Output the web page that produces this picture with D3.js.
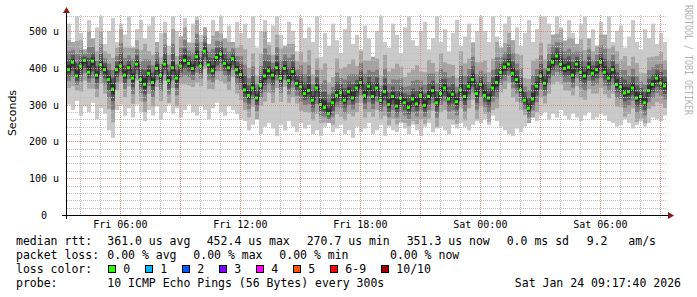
<!DOCTYPE html>
<html>
<head>
<meta charset="utf-8">
<script src="https://cdn.jsdelivr.net/npm/d3@7/dist/d3.min.js"></script>
<style>
body { margin: 0; background: #fff; }
text { white-space: pre; }
</style>
</head>
<body>
<script>
var width = 697;
var height = 297;

// time window of the graph (30 h), one sample every 12 minutes
var startTime = new Date(2026, 0, 23, 3, 20);
var endTime = new Date(2026, 0, 24, 9, 20);
var stepMinutes = 12;

// median rtt in microseconds
var median = [
  395, 415, 378, 405, 420, 388, 418, 380, 408, 395,
  368, 342, 395, 405, 380, 400, 372, 410, 368, 355,
  385, 360, 398, 380, 410, 365, 400, 372, 405, 420,
  412, 398, 430, 405, 445, 408, 392, 428, 438, 412,
  400, 425, 395, 382, 340, 325, 345, 318, 352, 378,
  392, 380, 400, 372, 398, 365, 390, 358, 348, 330,
  338, 312, 345, 300, 292, 275, 305, 325, 332, 312,
  335, 318, 345, 360, 325, 350, 322, 345, 312, 335,
  300, 322, 296, 318, 305, 292, 315, 302, 325, 298,
  322, 338, 305, 330, 345, 315, 328, 308, 340, 322,
  350, 368, 330, 355, 325, 318, 345, 360, 388, 402,
  410, 385, 368, 340, 312, 290, 315, 350, 378, 358,
  395, 415, 432, 410, 398, 402, 380, 410, 388, 378,
  402, 385, 395, 415, 388, 372, 395, 355, 348, 332,
  335, 345, 318, 322, 305, 338, 355, 372, 358, 351
];

// slowest ping of each sample (outer smoke top)
var maxPing = [
  520, 470, 540, 495, 450, 530, 480, 510, 540, 465,
  500, 535, 470, 520, 490, 540, 455, 505, 530, 480,
  515, 540, 470, 495, 525, 460, 540, 500, 485, 535,
  470, 520, 540, 490, 510, 465, 530, 500, 540, 480,
  515, 470, 525, 495, 520, 480, 540, 455, 500, 530,
  470, 515, 540, 490, 460, 525, 500, 445, 535, 480,
  510, 470, 540, 430, 495, 460, 520, 475, 440, 505,
  540, 465, 490, 450, 515, 480, 430, 500, 540, 470,
  455, 520, 490, 440, 510, 540, 475, 460, 500, 525,
  450, 480, 540, 470, 505, 445, 495, 530, 460, 485,
  520, 470, 500, 540, 500, 470, 540, 485, 455, 520,
  540, 475, 510, 460, 495, 530, 470, 505, 540, 540,
  520, 490, 540, 510, 475, 530, 495, 465, 520, 540,
  480, 505, 460, 525, 490, 540, 470, 500, 515, 455,
  485, 530, 470, 450, 505, 480, 520, 465, 495, 470
];

// fastest ping of each sample (outer smoke bottom)
var minPing = [
  300, 285, 310, 270, 295, 280, 305, 260, 290, 275,
  230, 210, 285, 300, 270, 290, 265, 300, 280, 255,
  285, 270, 295, 260, 280, 300, 275, 290, 265, 285,
  300, 280, 270, 295, 285, 260, 290, 305, 280, 270,
  295, 285, 275, 260, 255, 230, 245, 260, 220, 240,
  250, 235, 215, 245, 230, 255, 240, 225, 250, 235,
  245, 220, 230, 215, 240, 250, 225, 235, 245, 220,
  230, 210, 240, 225, 235, 250, 220, 230, 245, 215,
  240, 230, 225, 250, 235, 220, 245, 230, 215, 240,
  250, 225, 235, 240, 230, 220, 245, 235, 250, 240,
  230, 245, 255, 250, 260, 245, 270, 255, 240, 230,
  220, 215, 235, 225, 240, 250, 265, 255, 270, 280,
  260, 275, 265, 285, 270, 260, 275, 265, 255, 270,
  280, 260, 265, 275, 270, 255, 250, 240, 245, 260,
  250, 235, 245, 255, 240, 250, 265, 260, 255, 270
];

// spread of the inner smoke (2nd slowest / 2nd fastest ping) around the median
var spreadUp = [
  80, 60, 95, 70, 55, 110, 75, 65, 90, 50,
  70, 85, 60, 100, 75, 55, 90, 65, 80, 110,
  60, 75, 95, 50, 85, 70, 105, 60, 80, 90,
  55, 70, 100, 65, 80, 60, 95, 75, 55, 85,
  70, 90, 60, 80, 110, 75, 95, 60, 85, 120,
  70, 55, 90, 80, 65, 100, 75, 60, 95, 85,
  110, 70, 80, 95, 120, 85, 70, 100, 65, 90,
  75, 105, 60, 85, 95, 70, 110, 80, 65, 100,
  90, 75, 115, 85, 70, 95, 80, 105, 65, 90,
  100, 75, 85, 110, 70, 95, 80, 65, 105, 90,
  75, 100, 85, 60, 95, 70, 80, 110, 90, 65,
  85, 100, 70, 95, 60, 80, 105, 75, 90, 65,
  70, 85, 60, 95, 75, 80, 100, 65, 90, 70,
  85, 60, 95, 75, 110, 80, 65, 90, 75, 100,
  70, 85, 95, 65, 80, 90, 75, 60, 85, 70
];
var spreadDown = [
  50, 65, 40, 70, 55, 45, 75, 60, 50, 65,
  80, 90, 55, 45, 60, 50, 70, 45, 60, 75,
  55, 65, 50, 70, 45, 60, 55, 75, 50, 65,
  60, 50, 70, 55, 45, 65, 50, 60, 75, 55,
  60, 50, 65, 70, 55, 60, 50, 65, 55, 70,
  60, 75, 55, 65, 50, 60, 70, 55, 65, 50,
  60, 55, 70, 50, 40, 55, 60, 50, 65, 55,
  60, 50, 65, 55, 60, 70, 55, 60, 50, 65,
  55, 60, 50, 65, 55, 50, 60, 55, 65, 50,
  60, 55, 65, 50, 60, 55, 70, 60, 50, 65,
  60, 55, 70, 60, 50, 65, 60, 70, 55, 60,
  50, 65, 60, 55, 40, 55, 65, 70, 60, 55,
  65, 60, 70, 55, 60, 65, 55, 60, 70, 65,
  60, 55, 65, 70, 60, 55, 65, 60, 55, 65,
  60, 55, 65, 60, 55, 50, 60, 65, 55, 60
];

var yTicks = [0, 100, 200, 300, 400, 500];
var yTickLabels = ["0  ", "100 u", "200 u", "300 u", "400 u", "500 u"];

var lossLabels = ["0", "1", "2", "3", "4", "5", "6-9", "10/10"];
var lossColors = ["#26ff00", "#00b8ff", "#0059ff", "#7e00ff", "#ff00ff", "#ff5500", "#ff0000", "#a10000"];

var svg = d3.select("body").append("svg").attr("width", width).attr("height", height);

var x = d3.scaleTime().domain([startTime, endTime]).range([67, 667]);
var y = d3.scaleLinear().domain([0, 543.5]).range([215, 15]);

var data = median.map(function (m, i) {
    var t0 = new Date(+startTime + i * stepMinutes * 60000);
    var t1 = new Date(+startTime + (i + 1) * stepMinutes * 60000);
    return { t0: t0, t1: t1, med: m, lo: minPing[i], hi: maxPing[i],
             up: Math.min(spreadUp[i], maxPing[i] - m), dn: Math.min(spreadDown[i], m - minPing[i]) };
});

// smoke layers, outermost (lightest) first
var layers = [
    { color: "#cacaca", top: function (d) { return d.hi; }, bot: function (d) { return d.lo; } },
    { color: "#a4a4a4", top: function (d) { return d.med + d.up; }, bot: function (d) { return d.med - d.dn; } },
    { color: "#7e7e7e", top: function (d) { return d.med + d.up * 0.62; }, bot: function (d) { return d.med - d.dn * 0.62; } },
    { color: "#585858", top: function (d) { return d.med + d.up * 0.36; }, bot: function (d) { return d.med - d.dn * 0.36; } },
    { color: "#323232", top: function (d) { return d.med + d.up * 0.16; }, bot: function (d) { return d.med - d.dn * 0.16; } }
];

var smoke = svg.append("g");
layers.forEach(function (layer) {
    smoke.append("g").selectAll("rect").data(data).enter().append("rect")
        .attr("x", function (d) { return x(d.t0); })
        .attr("width", function (d) { return x(d.t1) - x(d.t0); })
        .attr("y", function (d) { return y(layer.top(d)); })
        .attr("height", function (d) { return y(layer.bot(d)) - y(layer.top(d)); })
        .attr("fill", layer.color);
});

// median: dark step line plus loss-coloured pieces
var stepData = data.concat([{ t0: endTime, med: data[data.length - 1].med }]);
svg.append("path")
    .datum(stepData)
    .attr("fill", "none")
    .attr("stroke", "#202020")
    .attr("stroke-width", 1)
    .attr("d", d3.line().curve(d3.curveStepAfter)
        .x(function (d) { return x(d.t0); })
        .y(function (d) { return y(d.med); }));

svg.append("g").selectAll("rect").data(data).enter().append("rect")
    .attr("x", function (d) { return x(d.t0); })
    .attr("width", function (d) { return x(d.t1) - x(d.t0) - 1; })
    .attr("y", function (d) { return y(d.med) - 1.5; })
    .attr("height", 3)
    .attr("fill", lossColors[0]);

// grid on top of the data
var grid = svg.append("g");
var minorY = d3.range(20, 543, 20).filter(function (v) { return v % 100 !== 0; });
grid.selectAll(".hminor").data(minorY).enter().append("line")
    .attr("x1", 67).attr("x2", 667)
    .attr("y1", function (d) { return Math.round(y(d)) + 0.5; })
    .attr("y2", function (d) { return Math.round(y(d)) + 0.5; })
    .attr("stroke", "#c0c0c0").attr("stroke-dasharray", "1,1");

var hours = d3.timeHour.every(1).range(startTime, endTime);
grid.selectAll(".vminor").data(hours.filter(function (d) { return d.getHours() % 3 !== 0; })).enter().append("line")
    .attr("x1", function (d) { return Math.round(x(d)) + 0.5; })
    .attr("x2", function (d) { return Math.round(x(d)) + 0.5; })
    .attr("y1", 15).attr("y2", 215)
    .attr("stroke", "#c0c0c0").attr("stroke-dasharray", "1,1");

var majorHours = hours.filter(function (d) { return d.getHours() % 3 === 0; });
grid.selectAll(".vmajor").data(majorHours).enter().append("line")
    .attr("x1", function (d) { return Math.round(x(d)) + 0.5; })
    .attr("x2", function (d) { return Math.round(x(d)) + 0.5; })
    .attr("y1", 15).attr("y2", 218)
    .attr("stroke", "#e08a8a").attr("stroke-dasharray", "1,1");

grid.selectAll(".hmajor").data(yTicks.slice(1)).enter().append("line")
    .attr("x1", 67).attr("x2", 667)
    .attr("y1", function (d) { return Math.round(y(d)) + 0.5; })
    .attr("y2", function (d) { return Math.round(y(d)) + 0.5; })
    .attr("stroke", "#e08a8a").attr("stroke-dasharray", "1,1");

// axes
svg.append("line").attr("x1", 62).attr("x2", 670).attr("y1", 215.5).attr("y2", 215.5).attr("stroke", "#000");
svg.append("line").attr("x1", 66.5).attr("x2", 66.5).attr("y1", 219).attr("y2", 11).attr("stroke", "#000");
svg.append("path").attr("d", "M668,212L674,215.5L668,219Z").attr("fill", "#8b1a1a");
svg.append("path").attr("d", "M63,13L66.5,7L70,13Z").attr("fill", "#8b1a1a");

// axis labels
svg.append("g").selectAll("text").data(yTicks).enter().append("text")
    .attr("x", 59)
    .attr("y", function (d) { return y(d) + 4; })
    .attr("text-anchor", "end")
    .attr("font-family", "DejaVu Sans Mono").attr("font-size", "10px").attr("fill", "#000")
    .text(function (d, i) { return yTickLabels[i]; });

var fmt = d3.timeFormat("%a %H:%M");
svg.append("g").selectAll("text").data(d3.timeHour.every(6).range(startTime, endTime)).enter().append("text")
    .attr("x", function (d) { return x(d); })
    .attr("y", 228)
    .attr("text-anchor", "middle")
    .attr("font-family", "DejaVu Sans Mono").attr("font-size", "10px").attr("fill", "#000")
    .text(function (d) { return fmt(d); });

svg.append("text")
    .attr("transform", "translate(16,113) rotate(-90)")
    .attr("text-anchor", "middle")
    .attr("font-family", "DejaVu Sans").attr("font-size", "11px").attr("fill", "#000")
    .text("Seconds");

svg.append("text")
    .attr("transform", "translate(684.5,5) rotate(90)")
    .attr("font-family", "DejaVu Sans Mono").attr("font-size", "10px").attr("fill", "#b4b4b4")
    .attr("textLength", 110).attr("lengthAdjust", "spacingAndGlyphs")
    .text("RRDTOOL / TOBI OETIKER");

// legend
var legend = svg.append("g")
    .attr("font-family", "DejaVu Sans Mono").attr("font-size", "11.5px").attr("fill", "#000");

var legendRows = [
    [[16, 244.5, "median rtt:"], [107.3, 244.5, "361.0 us avg"], [206.7, 244.5, "452.4 us max"],
     [306.7, 244.5, "270.7 us min"], [406.7, 244.5, "351.3 us now"], [506.7, 244.5, "0.0 ms sd"],
     [586.7, 244.5, "9.2"], [628.3, 244.5, "am/s"]],
    [[16, 258.5, "packet loss:"], [107.3, 258.5, "0.00 % avg"], [193.3, 258.5, "0.00 % max"],
     [279.3, 258.5, "0.00 % min"], [390, 258.5, "0.00 % now"]],
    [[16, 272.5, "loss color:"]],
    [[16, 286.5, "probe:"], [107.3, 286.5, "10 ICMP Echo Pings (56 Bytes) every 300s"]]
];
legendRows.forEach(function (row) {
    row.forEach(function (c) {
        legend.append("text").attr("x", c[0]).attr("y", c[1]).text(c[2]);
    });
});
legend.append("text").attr("x", 681).attr("y", 286.5).attr("text-anchor", "end").text("Sat Jan 24 09:17:40 2026");

var boxX = [108.5, 145.5, 182.5, 219.5, 256.5, 293.5, 330.5, 381.5];
lossLabels.forEach(function (lab, i) {
    legend.append("rect").attr("x", boxX[i]).attr("y", 265.5).attr("width", 7).attr("height", 7)
        .attr("fill", lossColors[i]).attr("stroke", "#000").attr("stroke-width", 1);
    legend.append("text").attr("x", boxX[i] + 14.8).attr("y", 272.5).text(lab);
});
</script>
</body>
</html>
